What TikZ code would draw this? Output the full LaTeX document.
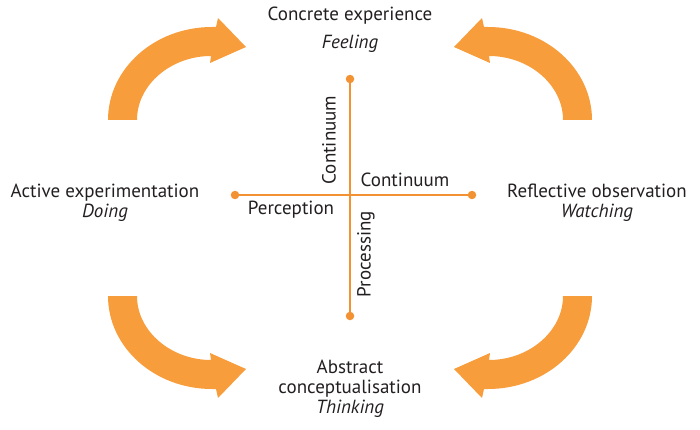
\documentclass[tikz,border=0pt]{standalone}
\usepackage{fontspec}
\setmainfont{PT Sans}
\definecolor{arrorange}{RGB}{248,157,60}
\definecolor{axorange}{RGB}{242,146,50}
\definecolor{txt}{RGB}{35,31,32}
\begin{document}
\begin{tikzpicture}[x=1pt,y=-1pt,
  lbl/.style={text=txt,font=\fontsize{19}{21}\selectfont,inner sep=0pt,anchor=base},
  itl/.style={lbl,font=\fontsize{19}{21}\selectfont\itshape},
  arr/.style={fill=arrorange},
  axis/.style={draw=axorange,line width=1.8pt},
  dot/.style={circle,fill=axorange,minimum size=8.5pt,inner sep=0pt}]
\useasboundingbox (0,0) rectangle (700,430);
\newcommand\bentarrow{%
  \fill[arr] (108,120) .. controls (108,68.6) and (154.6,27) .. (212,27) -- (216,27)
    -- (218,18) -- (246,47) -- (210,63) -- (211,56)
    .. controls (171,56) and (137,84.7) .. (137,120) -- cycle;}
% four curved arrows
\begin{scope}\bentarrow\end{scope}
\begin{scope}[shift={(700,0)},xscale=-1]\bentarrow\end{scope}
\begin{scope}[shift={(0,416)},yscale=-1]\bentarrow\end{scope}
\begin{scope}[shift={(700,416)},xscale=-1,yscale=-1]\bentarrow\end{scope}
% stage labels
\node[lbl] (ce) at (350,21) {Concrete experience};
\node[itl] (fe) at (350,49) {Feeling};
\node[lbl] (ae) at (105,197) {Active experimentation};
\node[itl] (do) at (105,217) {Doing};
\node[lbl] (ro) at (597,197) {Reflective observation};
\node[itl] (wa) at (597,217) {Watching};
\node[lbl] (ab) at (350,373) {Abstract};
\node[lbl] (co) at (350,393) {conceptualisation};
\node[itl] (th) at (350,413) {Thinking};
% cross
\node[dot] (t) at (350,79) {};
\node[dot] (b) at (350,316) {};
\node[dot] (l) at (235,195) {};
\node[dot] (r) at (472,195) {};
\draw[axis] (t.center) -- (b.center);
\draw[axis] (l.center) -- (r.center);
\node[lbl,anchor=center,rotate=90] (cv) at (329,140) {Continuum};
\node[lbl,anchor=center] (chz) at (405,180) {Continuum};
\node[lbl,anchor=center] (pe) at (291,210) {Perception};
\node[lbl,anchor=center,rotate=90] (pr) at (366,254) {Processing};
\end{tikzpicture}
\end{document}
